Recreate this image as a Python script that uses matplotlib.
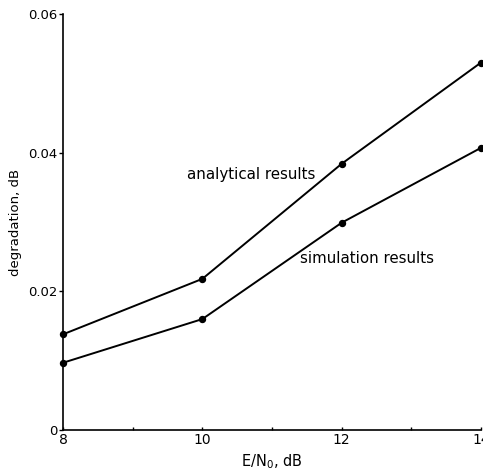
import matplotlib
matplotlib.use("Agg")
import matplotlib.pyplot as plt

ebn0 = [8, 10, 12, 14]
analytical = [0.0138, 0.0218, 0.0384, 0.0530]
simulation = [0.0097, 0.0160, 0.0299, 0.0407]
y_ticks = [0, 0.02, 0.04, 0.06]
y_labels = ["0", "0.02", "0.04", "0.06"]
x_major = [8, 10, 12, 14]
x_minor = [9, 11, 13]

plt.rcParams['font.family'] = ['DejaVu Sans']
fig = plt.figure(figsize=(4.83, 4.75), dpi=100)
ax = fig.add_axes([0.1304, 0.0947, 0.8655, 0.8758])

for ys in (analytical, simulation):
    ax.plot(ebn0, ys, color='black', lw=1.4, marker='o', ms=4.3, clip_on=False, zorder=3)

ax.set_xlim(8, 14)
ax.set_ylim(0, 0.06)
ax.spines['top'].set_visible(False)
ax.spines['right'].set_visible(False)
for s in ('left', 'bottom'):
    ax.spines[s].set_linewidth(1.2)

ax.set_yticks(y_ticks)
ax.set_yticklabels(y_labels)
ax.set_xticks(x_major)
ax.set_xticklabels([str(v) for v in x_major])
ax.set_xticks(x_minor, minor=True)
ax.tick_params(axis='x', which='both', direction='in', length=2.5, width=1, labelsize=10, pad=2)
ax.tick_params(axis='y', direction='out', length=3, width=1, labelsize=9.5, pad=1)

ax.set_xlabel("E/N$_0$, dB", fontsize=10.5, labelpad=4)
ax.set_ylabel("degradation, dB", fontsize=9.5, labelpad=4)

ax.text(9.78, 0.0368, "analytical results", fontsize=10.8, va='center', ha='left')
ax.text(11.40, 0.0248, "simulation results", fontsize=10.8, va='center', ha='left')

fig.savefig("out.png", dpi=100)
